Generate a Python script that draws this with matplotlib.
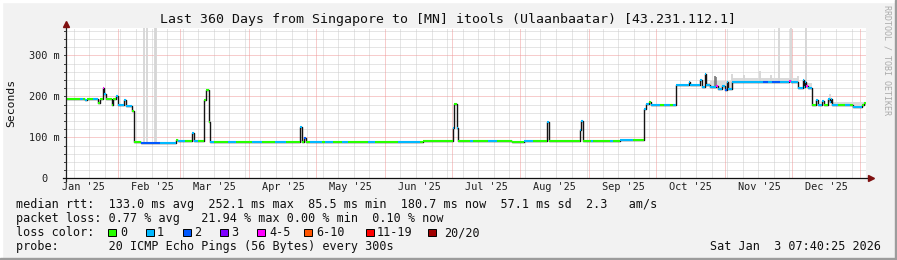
import matplotlib
matplotlib.use("Agg")
import matplotlib.pyplot as plt
import matplotlib.dates as mdates
from matplotlib import transforms
from matplotlib.patches import Rectangle
import numpy as np
import pandas as pd

W, H = 897, 260
MONO = "DejaVu Sans Mono"

title = "Last 360 Days from Singapore to [MN] itools (Ulaanbaatar) [43.231.112.1]"
t_start = "2025-01-08 12:00"
t_end = "2026-01-03 12:00"

# median rtt runs: start time, value (ms), loss bucket
med_time = [
    "2025-01-08 12:00", "2025-01-14 19:00", "2025-01-16 04:00", "2025-01-17 01:00", "2025-01-17 23:00",
    "2025-01-20 16:00", "2025-01-23 00:00", "2025-01-23 19:00", "2025-01-25 04:00", "2025-01-25 19:00",
    "2025-01-26 17:00", "2025-01-29 00:00", "2025-01-29 16:00", "2025-01-31 00:00", "2025-01-31 17:00",
    "2025-02-03 14:00", "2025-02-04 12:00", "2025-02-07 00:00", "2025-02-07 22:00", "2025-02-11 06:00",
    "2025-02-19 19:00", "2025-02-27 00:00", "2025-02-27 22:00", "2025-03-03 01:00", "2025-03-06 10:00",
    "2025-03-07 02:00", "2025-03-08 22:00", "2025-03-11 14:00", "2025-03-12 17:00", "2025-03-13 20:00",
    "2025-03-14 10:00", "2025-03-16 02:00", "2025-03-22 09:00", "2025-03-25 23:00", "2025-04-02 05:00",
    "2025-04-06 17:00", "2025-04-12 12:00", "2025-04-17 12:00", "2025-04-23 19:00", "2025-04-24 17:00",
    "2025-04-25 14:00", "2025-04-26 07:00", "2025-04-28 07:00", "2025-05-03 17:00", "2025-05-05 01:00",
    "2025-05-08 17:00", "2025-05-12 17:00", "2025-05-15 10:00", "2025-05-24 10:00", "2025-05-27 12:00",
    "2025-06-06 22:00", "2025-06-16 19:00", "2025-06-18 04:00", "2025-07-01 16:00", "2025-07-02 07:00",
    "2025-07-03 11:00", "2025-07-03 22:00", "2025-07-09 07:00", "2025-07-10 16:00", "2025-07-17 10:00",
    "2025-07-21 11:00", "2025-07-28 05:00", "2025-08-02 10:00", "2025-08-06 16:00", "2025-08-12 23:00",
    "2025-08-13 15:00", "2025-08-27 19:00", "2025-08-28 06:00", "2025-08-29 04:00", "2025-09-01 18:00",
    "2025-09-02 16:00", "2025-09-10 07:00", "2025-09-11 16:00", "2025-09-14 19:00", "2025-09-20 16:00",
    "2025-09-25 14:00", "2025-09-26 12:00", "2025-09-27 20:00", "2025-09-28 18:00", "2025-10-02 19:00",
    "2025-10-04 14:00", "2025-10-07 07:00", "2025-10-08 16:00", "2025-10-10 00:00", "2025-10-15 20:00",
    "2025-10-16 12:00", "2025-10-20 19:00", "2025-10-21 12:00", "2025-10-23 01:00", "2025-10-23 17:00",
    "2025-10-25 07:00", "2025-10-28 00:00", "2025-10-28 17:00", "2025-10-30 17:00", "2025-11-01 01:00",
    "2025-11-01 23:00", "2025-11-02 14:00", "2025-11-04 01:00", "2025-11-18 03:00", "2025-11-20 10:00",
    "2025-11-22 05:00", "2025-11-25 19:00", "2025-11-29 20:00", "2025-11-30 18:00", "2025-12-04 00:00",
    "2025-12-06 04:00", "2025-12-06 18:00", "2025-12-07 01:00", "2025-12-07 12:00", "2025-12-08 05:00",
    "2025-12-10 02:00", "2025-12-12 00:00", "2025-12-12 17:00", "2025-12-14 22:00", "2025-12-15 10:00",
    "2025-12-17 10:00", "2025-12-18 02:00", "2025-12-18 18:00", "2025-12-19 10:00", "2025-12-21 22:00",
    "2025-12-25 01:00", "2025-12-27 07:00", "2025-12-28 16:00", "2026-01-01 17:00", "2026-01-02 19:00",
]
med_ms = [
    193, 193, 193, 190, 193,
    193, 184, 193, 220, 205,
    193, 180, 193, 202, 180,
    190, 177, 165, 88, 86,
    86, 94, 91, 91, 110,
    91, 91, 190, 215, 137,
    89, 89, 89, 89, 89,
    89, 89, 89, 125, 89,
    98, 89, 89, 89, 89,
    89, 89, 89, 89, 89,
    89, 89, 91, 123, 182,
    123, 91, 91, 91, 91,
    91, 88, 91, 91, 137,
    91, 119, 140, 91, 91,
    91, 91, 91, 94, 94,
    170, 182, 187, 180, 180,
    180, 180, 180, 228, 234,
    228, 241, 223, 254, 228,
    222, 224, 219, 226, 215,
    235, 218, 235, 235, 235,
    235, 235, 238, 235, 220,
    239, 222, 236, 224, 220,
    178, 190, 178, 188, 178,
    194, 186, 194, 178, 178,
    178, 178, 174, 178, 183,
]
med_loss = [
    0, 1, 0, 1, 0,
    1, 0, 0, 4, 1,
    0, 0, 0, 1, 1,
    1, 1, 0, 0, 2,
    1, 0, 1, 0, 1,
    1, 0, 0, 0, 0,
    1, 0, 1, 0, 1,
    0, 1, 0, 1, 0,
    2, 0, 1, 0, 1,
    0, 1, 0, 1, 0,
    1, 0, 0, 1, 0,
    1, 0, 1, 0, 1,
    0, 0, 1, 0, 1,
    0, 1, 1, 0, 1,
    0, 1, 0, 1, 0,
    1, 1, 0, 1, 0,
    1, 0, 1, 1, 1,
    1, 1, 1, 1, 1,
    1, 4, 1, 1, 2,
    1, 1, 1, 2, 1,
    2, 1, 4, 1, 1,
    1, 1, 1, 4, 1,
    0, 1, 1, 1, 0,
    1, 1, 1, 1, 0,
    1, 0, 1, 0, 0,
]

loss_labels = ["0", "1", "2", "3", "4-5", "6-10", "11-19", "20/20"]
loss_colors = ["#26ff00", "#00b8ff", "#0059ff", "#7e00ff", "#ff00ff", "#ff5500", "#ff0000", "#a10000"]

# light smoke band above the median (step, until the end)
haze_time = ["2025-10-10 00:00", "2025-10-25 07:00", "2025-11-04 01:00", "2025-12-04 00:00", "2025-12-10 02:00"]
haze_top = [233, 237, 244, 233, 186]

# single smoke streaks
streak_time = ["2025-02-12 14:00", "2025-02-14 02:00", "2025-02-17 12:00", "2025-02-18 00:00",
               "2025-11-04 07:00", "2025-11-09 14:00", "2025-11-16 14:00", "2025-11-21 14:00",
               "2025-11-25 12:00", "2025-11-30 14:00", "2025-12-03 20:00", "2025-12-07 12:00",
               "2025-12-18 07:00"]
streak_top = [366, 366, 366, 366, 254, 253, 262, 252, 366, 366, 250, 366, 205]

dark_time = ["2025-10-27 14:00", "2025-10-28 04:00"]
dark_top = [249, 246]

y_ticks = [0, 100, 200, 300]
y_tick_labels = ["0", "100 m", "200 m", "300 m"]
y_top = 366

stat_lines = [
    "median rtt:  133.0 ms avg  252.1 ms max  85.5 ms min  180.7 ms now  57.1 ms sd  2.3   am/s",
    "packet loss: 0.77 % avg   21.94 % max 0.00 % min  0.10 % now",
]
probe_line = "probe:" + " " * 7 + "20 ICMP Echo Pings (56 Bytes) every 300s"
stamp = "Sat Jan  3 07:40:25 2026"


def tnum(seq):
    return mdates.date2num(pd.to_datetime(seq).values)


def step_at(times, values, query):
    idx = np.searchsorted(times, query, side="right") - 1
    return np.asarray(values, dtype=float)[np.clip(idx, 0, len(values) - 1)]


fig = plt.figure(figsize=(W / 100, H / 100), dpi=100, facecolor="#f2f2f2")
ax = fig.add_axes([66 / W, (H - 178.3) / H, 800 / W, 150 / H])
ax.set_facecolor("white")
for s in ax.spines.values():
    s.set_visible(False)

x0, x1 = tnum([t_start, t_end])
ax.set_xlim(x0, x1)
ax.set_ylim(0, y_top)
ax.set_xticks([])
ax.set_yticks([])

# grid
dot = (0, (1, 1))
months = pd.date_range("2025-02-01", "2026-01-01", freq="MS")
weeks = pd.date_range("2025-01-12", "2026-01-03", freq="7D")
month_num = tnum(months)
for w in tnum(weeks):
    if w not in month_num:
        ax.axvline(w, color="#cdcdcd", lw=0.72, ls=dot, zorder=0.5)
for m in month_num:
    ax.axvline(m, color="#f09a9a", lw=0.72, ls=dot, zorder=0.6)
for v in range(20, y_top, 20):
    if v % 100:
        ax.axhline(v, color="#cdcdcd", lw=0.72, ls=dot, zorder=0.5)
    else:
        ax.axhline(v, color="#f09a9a", lw=0.72, ls=dot, zorder=0.6)

# smoke
mt = tnum(med_time)
ht = tnum(haze_time)
grid = np.unique(np.concatenate([mt, ht, [x1]]))
grid = grid[grid >= ht[0]]
med_g = step_at(mt, med_ms, grid)
haze_g = step_at(ht, haze_top, grid)
ax.fill_between(grid, med_g, haze_g, where=haze_g > med_g, step="post",
                color="#dadada", lw=0, zorder=1)

st = tnum(streak_time)
ax.vlines(st, step_at(mt, med_ms, st), streak_top, color="#d6d6d6", lw=1.3, zorder=1.5)
dt = tnum(dark_time)
ax.vlines(dt, step_at(mt, med_ms, dt), dark_top, color="#7c7c7c", lw=1.2, zorder=1.6)

# median: black connecting steps, coloured by loss on top
t_next = np.append(mt[1:], x1)
ax.step(np.append(mt, x1), np.append(med_ms, med_ms[-1]), where="post",
        color="#141414", lw=1.0, zorder=3)
ax.hlines(med_ms, mt, t_next, colors=[loss_colors[i] for i in med_loss], lw=1.5, zorder=4)

# axes with arrows
ax.plot([0, 0], [-2.5 / 150, 1 + 4 / 150], transform=ax.transAxes, color="#202020",
        lw=0.9, clip_on=False, zorder=5)
ax.plot([0], [1 + 4.6 / 150], transform=ax.transAxes, marker="^", ms=4.5,
        color="#7f1010", clip_on=False, zorder=5)
ax.plot([-3 / 800, 1 + 2 / 800], [0, 0], transform=ax.transAxes, color="#101010",
        lw=0.9, clip_on=False, zorder=5)
ax.plot([1 + 4.5 / 800], [0], transform=ax.transAxes, marker=">", ms=4.5,
        color="#7f1010", clip_on=False, zorder=5)

# y tick marks and labels
ytr = transforms.blended_transform_factory(ax.transAxes, ax.transData)
for v in range(0, y_top, 20):
    ax.plot([-2.5 / 800, 0], [v, v], transform=ytr, color="#404040", lw=0.7, clip_on=False)
ylab_tr = ytr + transforms.ScaledTranslation(0, -3.7 / 100, fig.dpi_scale_trans)
for v, lab in zip(y_ticks, y_tick_labels):
    xr = -6 / 800 if lab != "0" else -19 / 800
    ax.text(xr, v, lab, transform=ylab_tr, ha="right", va="baseline",
            family=MONO, fontsize=7.4, color="#202020")

# month labels at mid-month
xtr = transforms.blended_transform_factory(ax.transData, ax.transAxes)
for m in pd.date_range("2025-01-01", "2025-12-01", freq="MS"):
    c = tnum([m + pd.Timedelta(days=15.5)])[0]
    if x0 < c < x1:
        ax.text(c, -11.4 / 150, m.strftime("%b '%y"), transform=xtr, ha="center",
                va="baseline", family=MONO, fontsize=7.4, color="#202020")


def ftext(x, y, s, **kw):
    kw.setdefault("family", MONO)
    kw.setdefault("color", "#101010")
    fig.text(x / W, 1 - y / H, s, **kw)


ftext(448, 23, title, fontsize=9.5, ha="center", va="baseline")
ftext(11, 103, "Seconds", fontsize=8.2, rotation=90, ha="center", va="center")
ftext(887, 60, "RRDTOOL / TOBI OETIKER", fontsize=6, rotation=270, ha="center",
      va="center", color="#ababab")

ftext(15.5, 208.3, stat_lines[0], fontsize=8.5, va="baseline")
ftext(15.5, 222.3, stat_lines[1], fontsize=8.5, va="baseline")
ftext(15.5, 236.3, "loss color:", fontsize=8.5, va="baseline")
box_x = [108, 146, 183, 220, 257, 304, 366, 428]
lab_x = [120, 157, 194, 231, 269, 316, 377, 444]
for bx, lx, col, lab in zip(box_x, lab_x, loss_colors, loss_labels):
    fig.add_artist(Rectangle((bx / W, 1 - 236 / H), 7.5 / W, 7.5 / H, transform=fig.transFigure,
                             facecolor=col, edgecolor="#000000", lw=0.7))
    ftext(lx, 236.3, lab, fontsize=8.5, va="baseline")
ftext(15.5, 250.3, probe_line, fontsize=8.5, va="baseline")
ftext(881, 250.3, stamp, fontsize=8.5, va="baseline", ha="right")

# 3d frame
fig.add_artist(Rectangle((0, 1 - 2 / H), 1, 2 / H, transform=fig.transFigure, color="#ffffff"))
fig.add_artist(Rectangle((0, 0), 2 / W, 1, transform=fig.transFigure, color="#ffffff"))
fig.add_artist(Rectangle((0, 0), 1, 2 / H, transform=fig.transFigure, color="#9c9c9c"))
fig.add_artist(Rectangle((1 - 2 / W, 0), 2 / W, 1, transform=fig.transFigure, color="#9c9c9c"))

fig.savefig("out.png", dpi=100, facecolor=fig.get_facecolor())
